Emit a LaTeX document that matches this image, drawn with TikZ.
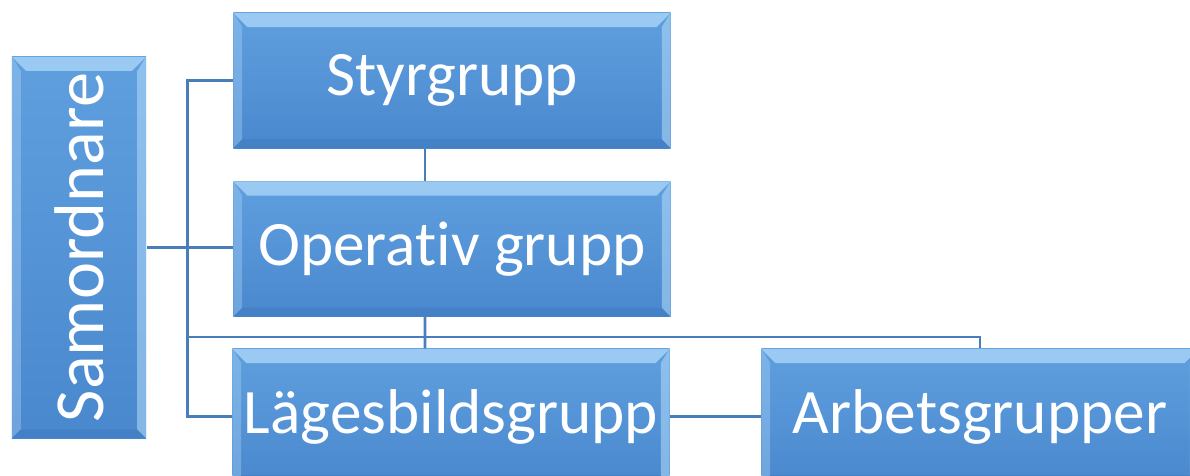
\documentclass[tikz,border=0pt]{standalone}
\usepackage{fontspec}
\setmainfont{Carlito}[Ligatures=NoCommon]
\usetikzlibrary{positioning,calc}

\definecolor{boxtop}{HTML}{5F9FDE}
\definecolor{boxbot}{HTML}{4A88CE}
\definecolor{boxlite}{HTML}{B4DCFA}
\definecolor{boxdark}{HTML}{3A73B6}
\definecolor{linecol}{HTML}{4A7EBB}

\begin{document}
\begin{tikzpicture}[
    x=0.01cm, y=-0.01cm,
    unit/.style={top color=boxtop, bottom color=boxbot, text=white, inner sep=0pt,
        minimum width=4.37cm, minimum height=1.35cm, font=\fontsize{18}{20}\selectfont,
        path picture={
            \fill[boxlite, opacity=.7] (path picture bounding box.north west) -- (path picture bounding box.north east)
                -- ++(-4pt,-4pt) -- ($(path picture bounding box.north west)+(4pt,-4pt)$) -- cycle;
            \fill[boxlite, opacity=.35] (path picture bounding box.north west) -- (path picture bounding box.south west)
                -- ++(2.5pt,2.5pt) -- ($(path picture bounding box.north west)+(2.5pt,-4pt)$) -- cycle;
            \fill[boxdark, opacity=.35] (path picture bounding box.south west) -- (path picture bounding box.south east)
                -- ++(-2.5pt,2.5pt) -- ($(path picture bounding box.south west)+(2.5pt,2.5pt)$) -- cycle;
            \fill[boxlite, opacity=.55] (path picture bounding box.north east) -- (path picture bounding box.south east)
                -- ++(-2.5pt,2.5pt) -- ($(path picture bounding box.north east)+(-2.5pt,-4pt)$) -- cycle;
        }},
    conn/.style={draw=linecol, line width=0.8pt}
]
\useasboundingbox (0,0) rectangle (1190,476);

% boxes
\node[unit, minimum width=1.34cm, minimum height=3.81cm, font=\fontsize{20}{22}\selectfont] (sam) at (79,247.5) {\rotatebox{90}{Samordnare}};
\node[unit] (styr) at (452,80.5) {Styrgrupp};
\node[unit] (oper) at (452,249) {Operativ grupp};
\node[unit] (lage) at (451,416.5) {Lägesbildsgrupp};
\node[unit] (arb) at (980,416.5) {Arbetsgrupper};

\coordinate (split) at (188,337);

% connectors
\draw[conn] (styr.west) -- ++(-45,0) |- (lage.west);
\draw[conn] (sam.east) -- (sam.east -| oper.west);
\draw[conn] ([xshift=-0.27cm]styr.south) -- ([xshift=-0.27cm]oper.north);
\draw[conn] ([xshift=-0.27cm]oper.south) -- ([xshift=-0.26cm]lage.north);
\draw[conn] (split) -| (arb.north);
\draw[conn] (lage.east) -- (arb.west);
\end{tikzpicture}
\end{document}
